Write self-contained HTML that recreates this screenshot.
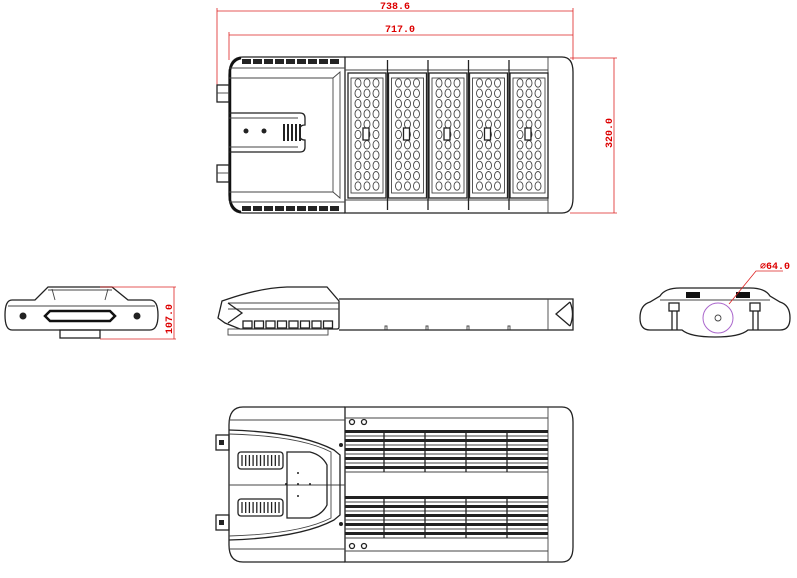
<!DOCTYPE html>
<html><head><meta charset="utf-8"><style>
html,body{margin:0;padding:0;background:#fff;width:797px;height:578px;overflow:hidden}
svg{display:block}
.l{fill:none;stroke:#222;stroke-width:1.3}
.t{fill:none;stroke:#444;stroke-width:.9}
.r{fill:none;stroke:#d22;stroke-width:.8}
text{font-family:"Liberation Mono",monospace;font-size:10px;font-weight:bold;fill:#d00}
</style></head><body>
<svg id="s" width="797" height="578" viewBox="0 0 797 578" xmlns="http://www.w3.org/2000/svg">
<line class="r" x1="217" y1="11" x2="573" y2="11"/>
<line class="r" x1="217" y1="8" x2="217" y2="88"/>
<line class="r" x1="573" y1="8" x2="573" y2="60"/>
<text x="380" y="9">738.6</text>
<line class="r" x1="229" y1="35" x2="573" y2="35"/>
<line class="r" x1="229" y1="32" x2="229" y2="60"/>
<text x="385" y="32">717.0</text>
<line class="r" x1="570" y1="58" x2="617" y2="58"/>
<line class="r" x1="570" y1="213" x2="617" y2="213"/>
<line class="r" x1="614" y1="58" x2="614" y2="213"/>
<text x="0" y="0" transform="translate(612,148) rotate(-90)">320.0</text>

<path class="l" d="M345 57 H562 Q573 57 573 72 V198 Q573 213 562 213 H345 Z"/>
<path class="l" d="M345 57 H243 Q229 57 229 75 V195 Q229 213 243 213 H345"/>
<path d="M241 58 Q232 60 230 70 V200 Q232 210 241 212" stroke="#111" stroke-width="2.5" fill="none"/>
<line class="t" x1="229" y1="68" x2="345" y2="68"/>
<line class="t" x1="229" y1="202" x2="345" y2="202"/>
<line class="t" x1="548" y1="57" x2="548" y2="213"/>
<line class="t" x1="345" y1="70" x2="548" y2="70"/>
<line class="t" x1="345" y1="200" x2="548" y2="200"/>
<polyline class="t" points="229,78 333,78 340,72 340,198 333,192 229,192"/>
<line class="t" x1="333" y1="78" x2="333" y2="192"/>
<path class="l" d="M229 113 H300 Q305 113 305 118 V125 Q300 125 300 129 V136 Q300 140 305 140 V147 Q305 152 300 152 H229"/>
<line class="t" x1="229" y1="118" x2="298" y2="118"/>
<line class="t" x1="229" y1="147" x2="298" y2="147"/>
<circle cx="246" cy="131" r="2.5" fill="#222"/><circle cx="264" cy="131" r="2.5" fill="#222"/>
<g id="g1"></g>
<rect class="l" x="217" y="85" width="12" height="17"/><rect class="l" x="217" y="165" width="12" height="17"/>
<line class="t" x1="217" y1="93" x2="229" y2="93"/><line class="t" x1="217" y1="173" x2="229" y2="173"/>

<path class="l" d="M48 287 H112 L128 300 H150 Q158 300 158 315 Q158 330 150 330 H12 Q5 330 5 315 Q5 300 12 300 H35 Z"/>
<line class="t" x1="48" y1="290" x2="112" y2="290"/>
<line class="t" x1="52" y1="289" x2="55" y2="300"/><line class="t" x1="108" y1="289" x2="105" y2="300"/>
<line class="t" x1="8" y1="306" x2="155" y2="306"/>
<path d="M50 311 H110 L115 316 L110 321 H50 L45 316 Z" fill="#fff" stroke="#111" stroke-width="2.5"/>
<circle cx="23" cy="316" r="3.5" fill="#222"/><circle cx="137" cy="316" r="3.5" fill="#222"/>
<rect class="l" x="60" y="330" width="40" height="8"/>
<line class="r" x1="100" y1="287" x2="176" y2="287"/><line class="r" x1="100" y1="339" x2="176" y2="339"/>
<line class="r" x1="174" y1="287" x2="174" y2="339"/>
<text x="0" y="0" transform="translate(172,334) rotate(-90)">107.0</text>

<path class="l" d="M228 299 Q260 288 287 287 H327 L339 301 V327 Q339 329 337 329 H240 L225 323 L218 318 L222 301 Z"/>
<line class="t" x1="228" y1="303" x2="339" y2="303"/>
<line class="t" x1="228" y1="309" x2="339" y2="309"/>
<polyline class="l" points="228,303 242,313 228,323"/>
<rect class="t" x="228" y="329" width="100" height="6"/>
<g id="g2"></g>
<path class="l" d="M339 299 H573 V330 H339"/>
<line class="t" x1="548" y1="299" x2="548" y2="330"/>
<path class="l" d="M570 302 L556 314 L570 326 M570 302 Q575 314 570 326"/>

<path class="l" d="M660 296 Q665 288 680 288 H750 Q765 288 770 296 L780 302 Q790 305 790 318 Q790 330 780 330 H748 Q740 337 715 337 Q690 337 682 330 H650 Q640 330 640 318 Q640 305 650 302 Z"/>
<rect x="686" y="292" width="14" height="6" fill="#111"/><rect x="736" y="292" width="14" height="6" fill="#111"/>
<line class="t" x1="660" y1="300" x2="770" y2="300"/>
<rect class="l" x="669" y="303" width="10" height="8"/><line class="l" x1="672" y1="311" x2="672" y2="330"/><line class="l" x1="677" y1="311" x2="677" y2="330"/>
<rect class="l" x="750" y="303" width="10" height="8"/><line class="l" x1="753" y1="311" x2="753" y2="330"/><line class="l" x1="758" y1="311" x2="758" y2="330"/>
<circle cx="718" cy="318" r="15" fill="none" stroke="#a6c" stroke-width="1"/>
<circle cx="718" cy="318" r="3" class="t"/>
<polyline class="r" points="729,304 756,271 783,271"/>
<text x="760" y="269">⌀64.0</text>

<path class="l" d="M345 407 H562 Q573 407 573 422 V547 Q573 562 562 562 H345 Z"/>
<path class="l" d="M345 407 H243 Q229 407 229 425 V545 Q229 562 243 562 H345"/>
<line class="t" x1="548" y1="407" x2="548" y2="562"/>
<line class="t" x1="345" y1="418" x2="548" y2="418"/>
<line class="t" x1="345" y1="551" x2="548" y2="551"/>
<line class="t" x1="229" y1="420" x2="345" y2="420"/>
<line class="t" x1="229" y1="549" x2="345" y2="549"/>
<line class="t" x1="229" y1="485" x2="345" y2="485"/>
<path class="l" d="M229 430 Q300 432 334 450 L340 455 V515 L334 520 Q300 538 229 540"/>
<path class="t" d="M229 434 Q300 436 331 452 V518 Q300 534 229 536"/>
<path class="l" d="M287 452 H310 Q322 455 327 465 V505 Q322 515 310 518 H287 Z"/>
<g fill="#222"><circle cx="298" cy="473" r="1"/><circle cx="298" cy="496" r="1"/><circle cx="286" cy="484" r="1"/><circle cx="298" cy="484" r="1"/><circle cx="310" cy="484" r="1"/></g>
<g id="g3"></g>
<rect class="l" x="216" y="435" width="13" height="15"/><rect class="l" x="216" y="515" width="13" height="15"/>
<rect x="219" y="440" width="5" height="5" fill="#222"/><rect x="219" y="520" width="5" height="5" fill="#222"/>
<circle cx="341" cy="445" r="2" fill="#222"/><circle cx="341" cy="524" r="2" fill="#222"/>
<circle cx="352" cy="422" r="2.5" class="l"/><circle cx="364" cy="422" r="2.5" class="l"/>
<circle cx="352" cy="546" r="2.5" class="l"/><circle cx="364" cy="546" r="2.5" class="l"/>
</svg>
<script>
var NS="http://www.w3.org/2000/svg";
function el(p,t,a){var e=document.createElementNS(NS,t);for(var k in a)e.setAttribute(k,a[k]);p.appendChild(e);return e;}
var g1=document.getElementById('g1');
for(var i=0;i<9;i++){el(g1,'rect',{x:242+i*11,y:59,width:9,height:5,fill:'#222'});el(g1,'rect',{x:242+i*11,y:206,width:9,height:5,fill:'#222'});}
for(var i=0;i<5;i++)el(g1,'rect',{x:283+i*4,y:124,width:2,height:17,fill:'#222'});
for(var m=0;m<5;m++){
 var x0=348+m*40.5;
 el(g1,'rect',{class:'l',x:x0,y:73,width:38,height:125});
 el(g1,'rect',{class:'t',x:x0+3,y:78,width:32,height:115});
 for(var r=0;r<11;r++)for(var c=0;c<3;c++){
  el(g1,'ellipse',{class:'t',cx:x0+10+c*9,cy:83+r*10.3,rx:3,ry:4.2});
 }
 el(g1,'rect',{x:x0+15,y:128,width:6,height:12,fill:'#fff',stroke:'#222','stroke-width':1.3});
 if(m>0){el(g1,'line',{class:'l',x1:x0-1,y1:60,x2:x0-1,y2:210});}
}
var g2=document.getElementById('g2');
for(var i=0;i<8;i++)el(g2,'rect',{class:'l',x:243+i*11.5,y:321,width:9,height:7});
[385,426,467,508].forEach(function(x){el(g2,'polyline',{class:'t',points:x+',330 '+x+',326 '+(x+2)+',326 '+(x+2)+',330'});});
var g3=document.getElementById('g3');
[[238,452],[238,499]].forEach(function(p){el(g3,'rect',{class:'l',x:p[0],y:p[1],width:45,height:17,rx:3});
 for(var i=0;i<11;i++)el(g3,'line',{class:'l',x1:p[0]+4+i*3.7,y1:p[1]+3,x2:p[0]+4+i*3.7,y2:p[1]+14});});
function bars(y0){for(var k=0;k<5;k++){var y=y0+k*9;el(g3,'rect',{x:345,y:y,width:203,height:3,fill:'#222'});el(g3,'line',{class:'t',x1:345,y1:y+6,x2:548,y2:y+6});}
 [384,425,466,507].forEach(function(x){el(g3,'line',{class:'l',x1:x,y1:y0,x2:x,y2:y0+42});});}
bars(430);bars(496);
</script>
</body></html>
